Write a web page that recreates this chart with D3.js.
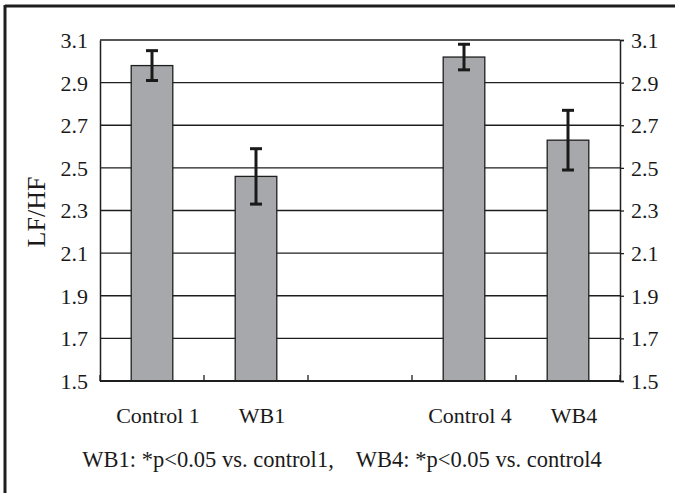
<!DOCTYPE html>
<html>
<head>
<meta charset="utf-8">
<script src="https://cdn.jsdelivr.net/npm/d3@7"></script>
<style>
  html, body { margin: 0; padding: 0; background: #fff; }
  svg { display: block; }
  text { font-family: "Liberation Serif", "Times New Roman", serif; fill: #1a1a1a; }
</style>
</head>
<body>
<svg id="chart" width="675" height="493"></svg>
<script>
// Group slots along the x axis (the empty slot separates the two pairs)
const categories = ["Control 1", "WB1", "", "Control 4", "WB4"];
// Mean LF/HF per group and its error half-width
const values = [2.98, 2.46, null, 3.02, 2.63];
const errors = [0.07, 0.13, null, 0.06, 0.14];
// Y axis tick values
const yTicks = [1.5, 1.7, 1.9, 2.1, 2.3, 2.5, 2.7, 2.9, 3.1];
const yTitle = "LF/HF";
const footnote = "WB1: *p<0.05 vs. control1,\u00a0\u00a0\u00a0 WB4: *p<0.05 vs. control4";

const W = 675, H = 493;
const plot = { left: 100, right: 620, top: 40, bottom: 381 };
const ink = "#1e1e1e";

const svg = d3.select("#chart");

// Outer frame edges
svg.append("line").attr("x1", 5).attr("y1", 6).attr("x2", W).attr("y2", 6)
  .attr("stroke", ink).attr("stroke-width", 3);
svg.append("line").attr("x1", 5).attr("y1", 5).attr("x2", 5).attr("y2", H)
  .attr("stroke", ink).attr("stroke-width", 3);

const x = d3.scaleBand().domain(categories.map((c, i) => i))
  .range([plot.left, plot.right]).padding(0);
const y = d3.scaleLinear().domain([1.5, 3.1]).range([plot.bottom, plot.top]);

// Horizontal gridlines
svg.append("g").selectAll("line").data(yTicks).join("line")
  .attr("x1", plot.left).attr("x2", plot.right)
  .attr("y1", d => y(d)).attr("y2", d => y(d))
  .attr("stroke", ink).attr("stroke-width", 1.3);

// Left axis
const leftAxis = svg.append("g").attr("transform", `translate(${plot.left},0)`)
  .call(d3.axisLeft(y).tickValues(yTicks).tickSize(0).tickPadding(12).tickFormat(d3.format(".1f")));
leftAxis.select(".domain").attr("stroke", ink).attr("stroke-width", 1.5);
leftAxis.selectAll("text").attr("font-size", 22).attr("dy", "0.34em")
  .style("font-family", "'Liberation Serif', serif").attr("fill", ink);

// Right axis
const rightAxis = svg.append("g").attr("transform", `translate(${plot.right},0)`)
  .call(d3.axisRight(y).tickValues(yTicks).tickSize(4).tickPadding(7).tickFormat(d3.format(".1f")));
rightAxis.select(".domain").attr("stroke", ink).attr("stroke-width", 1.5);
rightAxis.selectAll(".tick line").attr("stroke", ink).attr("stroke-width", 1.3);
rightAxis.selectAll("text").attr("font-size", 22).attr("dy", "0.34em")
  .style("font-family", "'Liberation Serif', serif").attr("fill", ink);

// Bars
const barW = x.bandwidth() * 0.4;
const bars = categories.map((c, i) => ({ i, c, v: values[i], e: errors[i] })).filter(d => d.v != null);
svg.append("g").selectAll("rect").data(bars).join("rect")
  .attr("x", d => x(d.i) + x.bandwidth() / 2 - barW / 2)
  .attr("width", barW)
  .attr("y", d => y(d.v))
  .attr("height", d => plot.bottom - y(d.v))
  .attr("fill", "#a7a8ab")
  .attr("stroke", ink).attr("stroke-width", 1.3);

// Bottom axis with boundary ticks between slots
svg.append("line").attr("x1", plot.left).attr("x2", plot.right)
  .attr("y1", plot.bottom).attr("y2", plot.bottom)
  .attr("stroke", ink).attr("stroke-width", 2);
svg.append("g").selectAll("line").data(categories.map((c, i) => i).concat([categories.length]))
  .join("line")
  .attr("x1", d => plot.left + d * x.step()).attr("x2", d => plot.left + d * x.step())
  .attr("y1", plot.bottom).attr("y2", plot.bottom - 6)
  .attr("stroke", ink).attr("stroke-width", 1.3);

// Error bars
const eb = svg.append("g").attr("stroke", "#1a1a1a").attr("stroke-width", 3);
bars.forEach(d => {
  const cx = x(d.i) + x.bandwidth() / 2;
  eb.append("line").attr("x1", cx).attr("x2", cx).attr("y1", y(d.v + d.e)).attr("y2", y(d.v - d.e));
  eb.append("line").attr("x1", cx - 6).attr("x2", cx + 6).attr("y1", y(d.v + d.e)).attr("y2", y(d.v + d.e));
  eb.append("line").attr("x1", cx - 6).attr("x2", cx + 6).attr("y1", y(d.v - d.e)).attr("y2", y(d.v - d.e));
});

// Category labels
svg.append("g").selectAll("text").data(bars).join("text")
  .attr("x", d => x(d.i) + x.bandwidth() / 2 + 6)
  .attr("y", 423)
  .attr("text-anchor", "middle")
  .attr("font-size", 22)
  .text(d => d.c);

// Y axis title
svg.append("text")
  .attr("transform", "translate(45,212) rotate(-90)")
  .attr("text-anchor", "middle")
  .attr("font-size", 26)
  .text(yTitle);

// Footnote
svg.append("text")
  .attr("x", 342).attr("y", 467)
  .attr("text-anchor", "middle")
  .attr("font-size", 22.5)
  .text(footnote);
</script>
</body>
</html>
